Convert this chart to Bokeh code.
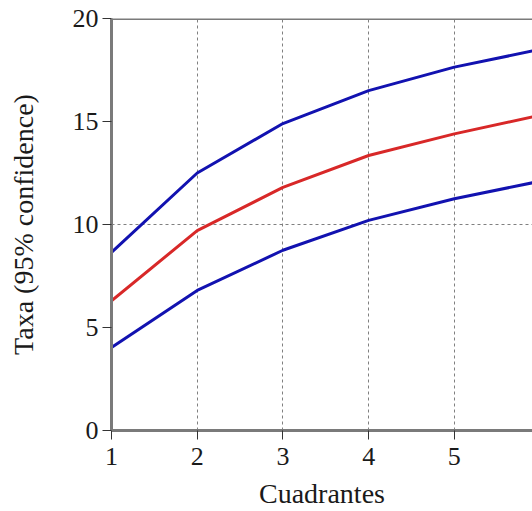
from bokeh.plotting import figure
from bokeh.models import Range1d, FixedTicker, Span
from bokeh.embed import file_html
from bokeh.resources import INLINE

quadrants = [1, 2, 3, 4, 5, 6]
taxa_mean = [6.3, 9.7, 11.8, 13.35, 14.4, 15.3]
taxa_upper = [8.65, 12.5, 14.9, 16.5, 17.64, 18.5]
taxa_lower = [4.03, 6.8, 8.75, 10.2, 11.25, 12.1]
x_ticks = [1, 2, 3, 4, 5]
y_ticks = [0, 5, 10, 15, 20]

FONT = "Liberation Serif"

p = figure(width=532, height=511, output_backend="svg", toolbar_location=None,
           x_range=Range1d(1, 5.912), y_range=Range1d(0, 20),
           min_border_left=111, min_border_right=0, min_border_top=18, min_border_bottom=81)
p.outline_line_color = None
p.background_fill_color = "white"
p.border_fill_color = "white"

p.line(quadrants, taxa_upper, line_color="#1212b0", line_width=3)
p.line(quadrants, taxa_mean, line_color="#d82828", line_width=3)
p.line(quadrants, taxa_lower, line_color="#1212b0", line_width=3)

p.add_layout(Span(location=20, dimension="width", line_color="#7a7a7a", line_width=3))

for ax in (p.xaxis[0], p.yaxis[0]):
    ax.axis_line_color = "#7a7a7a"
    ax.axis_line_width = 3
    ax.major_tick_line_color = "#333333"
    ax.major_tick_line_width = 1
    ax.major_tick_out = 9
    ax.major_tick_in = 0
    ax.minor_tick_line_color = None
    ax.major_label_text_font = FONT
    ax.major_label_text_font_size = "26px"
    ax.major_label_text_color = "#1a1a1a"
    ax.axis_label_text_font = FONT
    ax.axis_label_text_font_size = "28px"
    ax.axis_label_text_font_style = "normal"
    ax.axis_label_text_color = "#1a1a1a"

p.xaxis.ticker = FixedTicker(ticks=x_ticks)
p.yaxis.ticker = FixedTicker(ticks=y_ticks)
p.xaxis.axis_label = "Cuadrantes"
p.yaxis.axis_label = "Taxa (95% confidence)"
p.xaxis.major_label_standoff = 8
p.yaxis.major_label_standoff = 4
p.xaxis.axis_label_standoff = 10
p.yaxis.axis_label_standoff = 31

p.xgrid.ticker = FixedTicker(ticks=x_ticks)
p.ygrid.ticker = FixedTicker(ticks=[10])
for g in (p.xgrid[0], p.ygrid[0]):
    g.grid_line_color = "#808080"
    g.grid_line_dash = "3 3"
    g.grid_line_width = 1

open("out.html", "w").write(file_html(p, INLINE))
